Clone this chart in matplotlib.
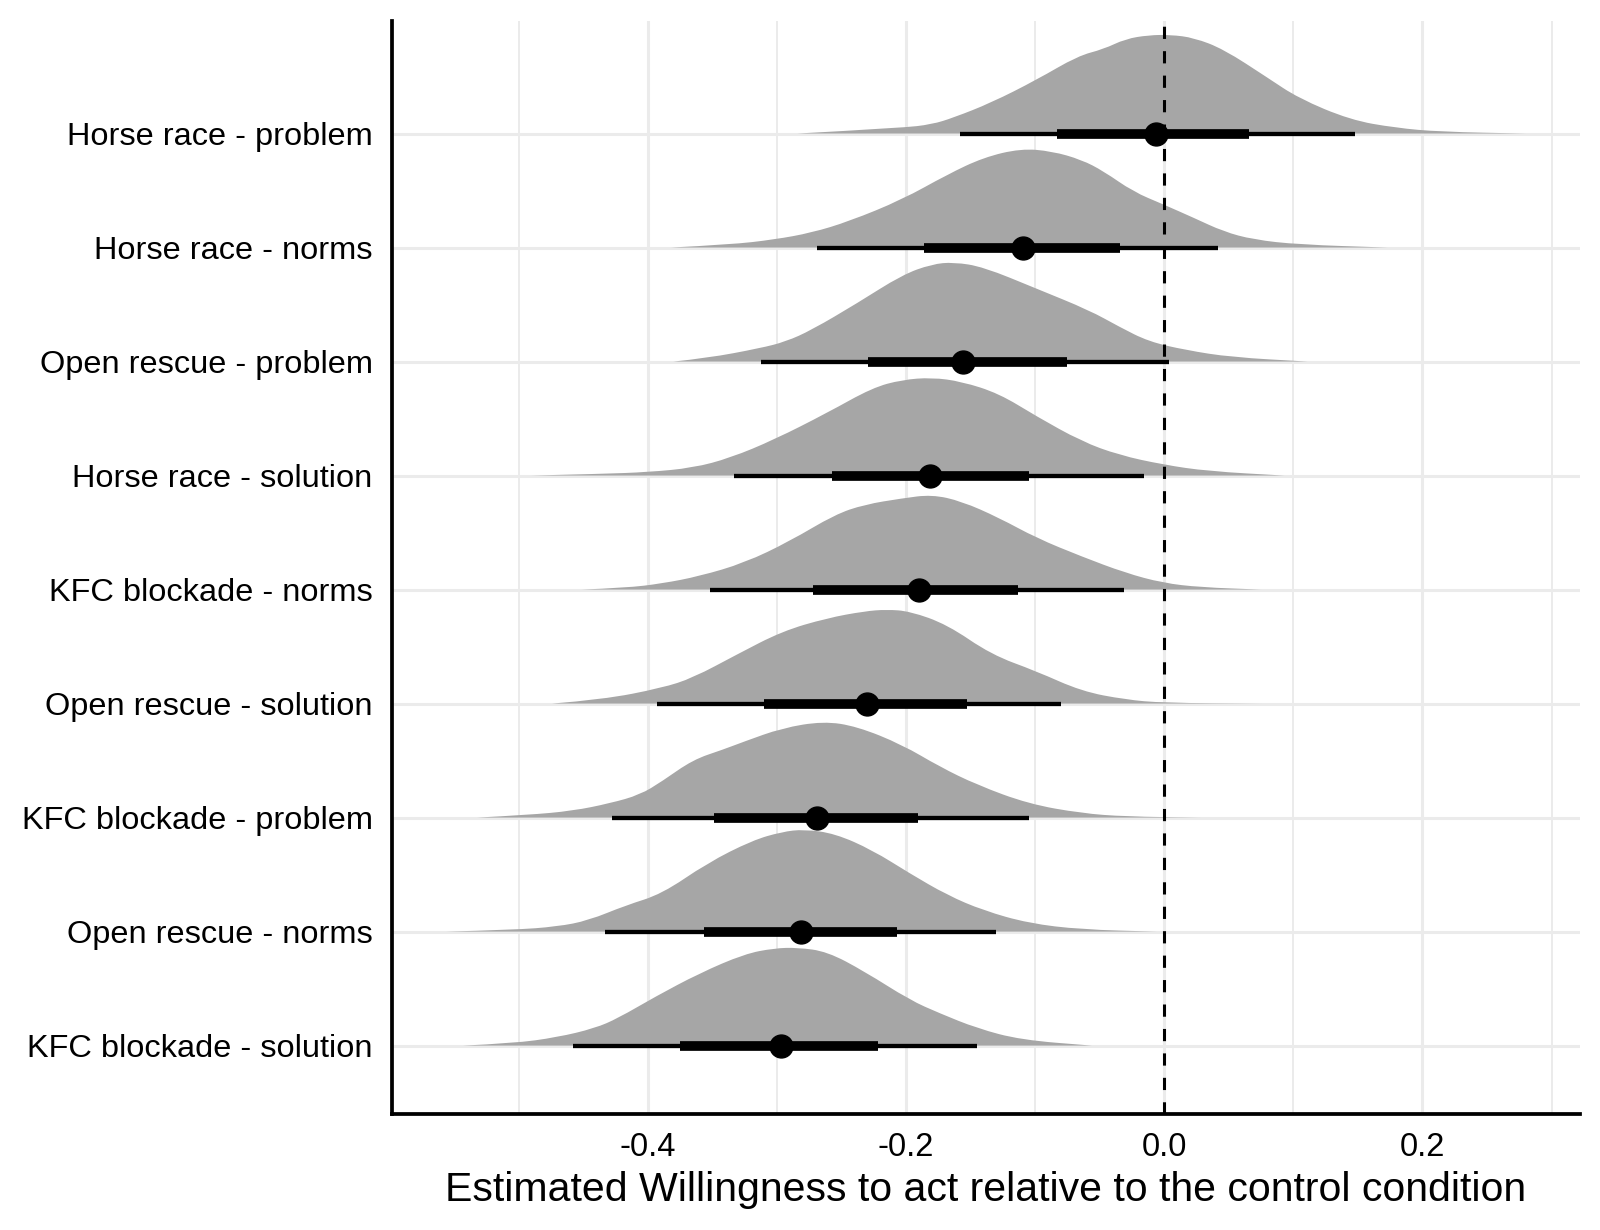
import matplotlib.pyplot as plt
from matplotlib.path import Path
from matplotlib.patches import PathPatch
from matplotlib.ticker import MultipleLocator

# Rows from top to bottom.
labels = [
	"Horse race - problem",
	"Horse race - norms",
	"Open rescue - problem",
	"Horse race - solution",
	"KFC blockade - norms",
	"Open rescue - solution",
	"KFC blockade - problem",
	"Open rescue - norms",
	"KFC blockade - solution",
]

# Posterior density outlines (x value, relative height).
densX = [
	[-0.284, -0.203, -0.180, -0.163, -0.134, -0.099, -0.067, -0.047, -0.030, -0.012, 0.005, 0.023, 0.046, 0.080, 0.104, 0.144, 0.179, 0.214, 0.280],
	[-0.382, -0.336, -0.302, -0.273, -0.244, -0.203, -0.168, -0.140, -0.111, -0.087, -0.064, -0.047, -0.024, -0.001, 0.023, 0.046, 0.069, 0.104, 0.173],
	[-0.380, -0.354, -0.313, -0.293, -0.273, -0.238, -0.203, -0.180, -0.163, -0.140, -0.099, -0.058, -0.035, -0.012, 0.017, 0.052, 0.111],
	[-0.490, -0.435, -0.400, -0.365, -0.336, -0.302, -0.261, -0.226, -0.203, -0.180, -0.157, -0.128, -0.099, -0.064, -0.035, -0.001, 0.034, 0.093],
	[-0.451, -0.417, -0.389, -0.360, -0.325, -0.290, -0.255, -0.232, -0.203, -0.180, -0.157, -0.128, -0.099, -0.064, -0.030, -0.001, 0.028, 0.075],
	[-0.474, -0.435, -0.389, -0.365, -0.331, -0.296, -0.261, -0.232, -0.215, -0.197, -0.168, -0.134, -0.099, -0.064, -0.030, -0.001, 0.075],
	[-0.532, -0.493, -0.458, -0.429, -0.406, -0.389, -0.365, -0.342, -0.325, -0.296, -0.264, -0.238, -0.203, -0.174, -0.145, -0.105, -0.064, -0.030, 0.028],
	[-0.556, -0.504, -0.470, -0.446, -0.417, -0.389, -0.354, -0.319, -0.296, -0.279, -0.255, -0.226, -0.197, -0.168, -0.140, -0.105, -0.064, -0.006],
	[-0.543, -0.504, -0.470, -0.441, -0.423, -0.394, -0.360, -0.325, -0.302, -0.284, -0.261, -0.232, -0.197, -0.174, -0.145, -0.111, -0.056],
]
densH = [
	[0, 0.05, 0.08, 0.14, 0.27, 0.47, 0.68, 0.74, 0.83, 0.863, 0.866, 0.84, 0.74, 0.49, 0.31, 0.12, 0.05, 0.015, 0],
	[0, 0.026, 0.07, 0.13, 0.23, 0.42, 0.64, 0.79, 0.868, 0.845, 0.77, 0.67, 0.49, 0.38, 0.26, 0.14, 0.07, 0.026, 0],
	[0, 0.03, 0.117, 0.175, 0.277, 0.51, 0.76, 0.854, 0.872, 0.83, 0.64, 0.45, 0.306, 0.175, 0.10, 0.038, 0],
	[0, 0.015, 0.03, 0.067, 0.155, 0.315, 0.55, 0.77, 0.84, 0.86, 0.825, 0.72, 0.52, 0.30, 0.18, 0.096, 0.038, 0],
	[0, 0.015, 0.053, 0.117, 0.234, 0.424, 0.658, 0.746, 0.80, 0.833, 0.775, 0.63, 0.453, 0.29, 0.146, 0.058, 0.02, 0],
	[0, 0.035, 0.137, 0.225, 0.43, 0.634, 0.75, 0.81, 0.825, 0.81, 0.693, 0.43, 0.284, 0.108, 0.035, 0.006, 0],
	[0, 0.023, 0.059, 0.126, 0.20, 0.317, 0.507, 0.595, 0.668, 0.785, 0.845, 0.80, 0.64, 0.447, 0.287, 0.12, 0.038, 0.009, 0],
	[0, 0.015, 0.044, 0.097, 0.23, 0.33, 0.60, 0.80, 0.875, 0.897, 0.86, 0.715, 0.51, 0.32, 0.185, 0.073, 0.018, 0],
	[0, 0.02, 0.073, 0.152, 0.24, 0.43, 0.634, 0.804, 0.854, 0.86, 0.825, 0.65, 0.40, 0.284, 0.152, 0.05, 0],
]

# Point summary and intervals (66% thick, 95% thin).
medians = [-0.006, -0.109, -0.156, -0.181, -0.190, -0.230, -0.269, -0.281, -0.297]
lo66 = [-0.083, -0.186, -0.229, -0.257, -0.272, -0.310, -0.349, -0.356, -0.375]
hi66 = [0.066, -0.034, -0.075, -0.105, -0.113, -0.153, -0.191, -0.207, -0.222]
lo95 = [-0.158, -0.269, -0.312, -0.333, -0.352, -0.393, -0.428, -0.433, -0.458]
hi95 = [0.148, 0.042, 0.004, -0.016, -0.031, -0.080, -0.105, -0.130, -0.145]

xTicks = [-0.4, -0.2, 0.0, 0.2]
xLabel = "Estimated Willingness to act relative to the control condition"

plt.rcParams['font.family'] = ['Liberation Sans', 'DejaVu Sans']


# Build a smooth slab outline through the read points (quadratic curves
# through the midpoints), closed along the baseline.
def slabPath(xs, hs, base):
	pts = [(x, base + h) for x, h in zip(xs, hs)]
	verts = [pts[0]]
	codes = [Path.MOVETO]
	for k in range(1, len(pts) - 1):
		mid = ((pts[k][0] + pts[k + 1][0]) / 2, (pts[k][1] + pts[k + 1][1]) / 2)
		verts += [pts[k], mid]
		codes += [Path.CURVE3, Path.CURVE3]
	verts.append(pts[-1])
	codes.append(Path.LINETO)
	verts.append(pts[0])
	codes.append(Path.LINETO)
	verts.append(pts[0])
	codes.append(Path.CLOSEPOLY)
	return Path(verts, codes)


fig = plt.figure(figsize=(16, 12.3), dpi=100)
ax = fig.add_axes([0.245, 0.0943, 0.7425, 0.8889])

nRows = len(labels)
gridColor = "#EBEBEB"

for i in range(nRows):
	y = nRows - i  # Top row gets the highest position.
	ax.add_patch(PathPatch(slabPath(densX[i], densH[i], y),
		facecolor="#A6A6A6", edgecolor="none", zorder=2))
	ax.plot([lo95[i], hi95[i]], [y, y], color="black", lw=3.1,
		solid_capstyle="butt", zorder=3)
	ax.plot([lo66[i], hi66[i]], [y, y], color="black", lw=7,
		solid_capstyle="butt", zorder=4)
	ax.plot(medians[i], y, "o", color="black", markersize=16.5, zorder=5)

# Reference line at zero.
ax.axvline(0, color="black", lw=2.2, linestyle=(0, (4, 4)), zorder=6)

ax.set_xlim(-0.598, 0.322)
ax.set_ylim(0.4, 9.99)
ax.set_yticks(range(nRows, 0, -1))
ax.set_yticklabels(labels)
ax.set_xticks(xTicks)
ax.set_xticklabels(["%0.1f" % t for t in xTicks])
ax.xaxis.set_minor_locator(MultipleLocator(0.1))

ax.grid(True, which="major", axis="both", color=gridColor, lw=2.2, zorder=0)
ax.grid(True, which="minor", axis="x", color=gridColor, lw=1.4, zorder=0)
ax.set_axisbelow(True)

for side in ["top", "right"]:
	ax.spines[side].set_visible(False)
for side in ["left", "bottom"]:
	ax.spines[side].set_linewidth(2.7)
	ax.spines[side].set_color("black")

ax.tick_params(axis="both", which="both", length=0)
ax.tick_params(axis="y", labelsize=23.4, pad=14, colors="black")
ax.tick_params(axis="x", labelsize=23.5, pad=13, colors="black")
ax.set_xlabel(xLabel, fontsize=29.5, labelpad=5.5)

plt.savefig("out.png", dpi=100)
